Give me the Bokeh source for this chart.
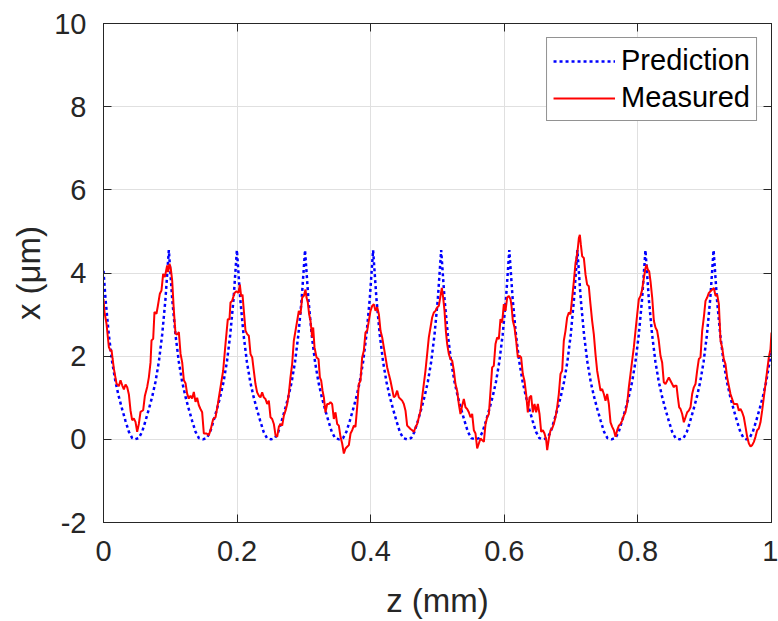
from bokeh.plotting import figure
from bokeh.models import FixedTicker, LinearAxis, Range1d, Legend, LegendItem
from bokeh.embed import file_html
from bokeh.resources import INLINE

# ---------------- data ----------------
x_ticks = [0, 0.2, 0.4, 0.6, 0.8, 1]
x_tick_labels = ["0", "0.2", "0.4", "0.6", "0.8", "1"]
y_ticks = [-2, 0, 2, 4, 6, 8, 10]
y_tick_labels = ["-2", "0", "2", "4", "6", "8", "10"]

pred_z = [
    0.0000, 0.0030, 0.0080, 0.0130, 0.0180, 0.0230, 0.0280, 0.0330, 0.0380, 0.0430, 0.0469,
    0.0528, 0.0578, 0.0628, 0.0678, 0.0728, 0.0778, 0.0828, 0.0878, 0.0928, 0.0978,
    0.1028, 0.1078, 0.1128, 0.1178, 0.1228, 0.1278, 0.1328, 0.1378, 0.1428, 0.1488,
    0.1547, 0.1597, 0.1647, 0.1697, 0.1747, 0.1797, 0.1847, 0.1897, 0.1947, 0.1997,
    0.2047, 0.2097, 0.2147, 0.2197, 0.2247, 0.2297, 0.2347, 0.2397, 0.2447, 0.2507,
    0.2567, 0.2617, 0.2667, 0.2717, 0.2767, 0.2817, 0.2867, 0.2917, 0.2967, 0.3017,
    0.3067, 0.3117, 0.3167, 0.3217, 0.3267, 0.3317, 0.3367, 0.3417, 0.3467, 0.3526,
    0.3586, 0.3636, 0.3686, 0.3736, 0.3786, 0.3836, 0.3886, 0.3936, 0.3986, 0.4036,
    0.4086, 0.4136, 0.4186, 0.4236, 0.4286, 0.4336, 0.4386, 0.4436, 0.4486, 0.4546,
    0.4605, 0.4655, 0.4705, 0.4755, 0.4805, 0.4855, 0.4905, 0.4955, 0.5005, 0.5055,
    0.5105, 0.5155, 0.5205, 0.5255, 0.5305, 0.5355, 0.5405, 0.5455, 0.5505, 0.5565,
    0.5625, 0.5675, 0.5725, 0.5775, 0.5825, 0.5875, 0.5925, 0.5975, 0.6025, 0.6075,
    0.6125, 0.6175, 0.6225, 0.6275, 0.6325, 0.6375, 0.6425, 0.6475, 0.6525, 0.6584,
    0.6644, 0.6694, 0.6744, 0.6794, 0.6844, 0.6894, 0.6944, 0.6994, 0.7044, 0.7094,
    0.7144, 0.7194, 0.7244, 0.7294, 0.7344, 0.7394, 0.7444, 0.7494, 0.7544, 0.7604,
    0.7663, 0.7713, 0.7763, 0.7813, 0.7863, 0.7913, 0.7963, 0.8013, 0.8063, 0.8113,
    0.8163, 0.8213, 0.8263, 0.8313, 0.8363, 0.8413, 0.8463, 0.8513, 0.8563, 0.8623,
    0.8683, 0.8733, 0.8783, 0.8833, 0.8883, 0.8933, 0.8983, 0.9033, 0.9083, 0.9133,
    0.9183, 0.9233, 0.9283, 0.9333, 0.9383, 0.9433, 0.9483, 0.9533, 0.9583, 0.9626,
    0.9670, 0.9720, 0.9770, 0.9820, 0.9870, 0.9920, 0.9970, 1.0000,
]
pred_x = [
    4.05, 3.38, 2.51, 1.86, 1.38, 1.02, 0.72, 0.44, 0.18, 0.03, 0.00,
    0.03, 0.18, 0.44, 0.72, 1.02, 1.38, 1.86, 2.51, 3.38, 4.55,
    3.38, 2.51, 1.86, 1.38, 1.02, 0.72, 0.44, 0.18, 0.03, 0.00,
    0.03, 0.18, 0.44, 0.72, 1.02, 1.38, 1.86, 2.51, 3.38, 4.55,
    3.38, 2.51, 1.86, 1.38, 1.02, 0.72, 0.44, 0.18, 0.03, 0.00,
    0.03, 0.18, 0.44, 0.72, 1.02, 1.38, 1.86, 2.51, 3.38, 4.55,
    3.38, 2.51, 1.86, 1.38, 1.02, 0.72, 0.44, 0.18, 0.03, 0.00,
    0.03, 0.18, 0.44, 0.72, 1.02, 1.38, 1.86, 2.51, 3.38, 4.55,
    3.38, 2.51, 1.86, 1.38, 1.02, 0.72, 0.44, 0.18, 0.03, 0.00,
    0.03, 0.18, 0.44, 0.72, 1.02, 1.38, 1.86, 2.51, 3.38, 4.55,
    3.38, 2.51, 1.86, 1.38, 1.02, 0.72, 0.44, 0.18, 0.03, 0.00,
    0.03, 0.18, 0.44, 0.72, 1.02, 1.38, 1.86, 2.51, 3.38, 4.55,
    3.38, 2.51, 1.86, 1.38, 1.02, 0.72, 0.44, 0.18, 0.03, 0.00,
    0.03, 0.18, 0.44, 0.72, 1.02, 1.38, 1.86, 2.51, 3.38, 4.55,
    3.38, 2.51, 1.86, 1.38, 1.02, 0.72, 0.44, 0.18, 0.03, 0.00,
    0.03, 0.18, 0.44, 0.72, 1.02, 1.38, 1.86, 2.51, 3.38, 4.55,
    3.38, 2.51, 1.86, 1.38, 1.02, 0.72, 0.44, 0.18, 0.03, 0.00,
    0.03, 0.18, 0.44, 0.72, 1.02, 1.38, 1.86, 2.51, 3.38, 4.55,
    3.38, 2.51, 1.86, 1.38, 1.02, 0.72, 0.44, 0.18, 0.03, 0.00,
    0.03, 0.18, 0.44, 0.72, 1.02, 1.38, 1.86, 2.20,
]

meas_z = [
    0.0000, 0.0015, 0.0045, 0.0080, 0.0105, 0.0120, 0.0135, 0.0155, 0.0195, 0.0230,
    0.0255, 0.0280, 0.0305, 0.0330, 0.0355, 0.0380, 0.0404, 0.0429, 0.0454, 0.0479,
    0.0504, 0.0529, 0.0554, 0.0594, 0.0619, 0.0654, 0.0679, 0.0704, 0.0719, 0.0744,
    0.0763, 0.0793, 0.0813, 0.0843, 0.0868, 0.0893, 0.0918, 0.0938, 0.0953, 0.0968,
    0.0988, 0.1008, 0.1028, 0.1053, 0.1078, 0.1103, 0.1128, 0.1153, 0.1178, 0.1203,
    0.1228, 0.1252, 0.1277, 0.1302, 0.1327, 0.1352, 0.1377, 0.1402, 0.1427, 0.1452,
    0.1477, 0.1502, 0.1542, 0.1577, 0.1602, 0.1642, 0.1677, 0.1712, 0.1751, 0.1791,
    0.1826, 0.1861, 0.1886,
    0.1901, 0.1926, 0.1961, 0.1991, 0.2021, 0.2041, 0.2061, 0.2081, 0.2101, 0.2126,
    0.2151, 0.2176, 0.2201, 0.2226, 0.2250, 0.2275, 0.2300, 0.2325, 0.2350, 0.2375,
    0.2400, 0.2425, 0.2450, 0.2475, 0.2500, 0.2525, 0.2550, 0.2575, 0.2600, 0.2625,
    0.2650, 0.2675, 0.2700, 0.2725, 0.2750, 0.2774, 0.2799, 0.2824, 0.2849, 0.2874,
    0.2899, 0.2924, 0.2949, 0.2974, 0.2999, 0.3024, 0.3039, 0.3059, 0.3079, 0.3099,
    0.3124, 0.3139, 0.3159, 0.3189, 0.3219, 0.3239, 0.3259, 0.3279, 0.3299, 0.3323,
    0.3348, 0.3373, 0.3398, 0.3423, 0.3448, 0.3473, 0.3498, 0.3523, 0.3548, 0.3573,
    0.3598, 0.3623, 0.3648, 0.3673, 0.3698, 0.3723, 0.3748, 0.3772, 0.3797, 0.3822,
    0.3847,
    0.3872, 0.3897, 0.3922, 0.3947, 0.3972, 0.3997, 0.4022, 0.4047, 0.4072, 0.4097,
    0.4122, 0.4147, 0.4172, 0.4197, 0.4222, 0.4247, 0.4271, 0.4296, 0.4321, 0.4346,
    0.4371, 0.4396, 0.4421, 0.4446, 0.4471, 0.4496, 0.4521, 0.4546, 0.4571, 0.4596,
    0.4621, 0.4646, 0.4671, 0.4696, 0.4721, 0.4746, 0.4770, 0.4795, 0.4820, 0.4845,
    0.4870, 0.4895, 0.4920, 0.4945, 0.4970, 0.4995, 0.5020, 0.5045, 0.5065, 0.5085,
    0.5105, 0.5125, 0.5145, 0.5170, 0.5195, 0.5220, 0.5245, 0.5269, 0.5294, 0.5319,
    0.5344, 0.5369, 0.5394, 0.5419, 0.5444, 0.5469, 0.5494, 0.5519, 0.5544, 0.5569,
    0.5594, 0.5619, 0.5644, 0.5669, 0.5694, 0.5719, 0.5744, 0.5769, 0.5794,
    0.5818, 0.5843, 0.5868, 0.5893, 0.5918, 0.5943, 0.5968, 0.5993, 0.6018, 0.6043,
    0.6068, 0.6093, 0.6108, 0.6128, 0.6153, 0.6178, 0.6203, 0.6228, 0.6252, 0.6277,
    0.6302, 0.6327, 0.6352, 0.6377, 0.6402, 0.6427, 0.6452, 0.6477, 0.6502, 0.6527,
    0.6552, 0.6577, 0.6602, 0.6627, 0.6642, 0.6667, 0.6692, 0.6717, 0.6741, 0.6766,
    0.6791, 0.6816, 0.6841, 0.6866, 0.6891, 0.6916, 0.6941, 0.6966, 0.6991, 0.7016,
    0.7041, 0.7066, 0.7081, 0.7101, 0.7116, 0.7131, 0.7146, 0.7166, 0.7191, 0.7216,
    0.7240, 0.7265, 0.7290, 0.7315, 0.7340, 0.7365, 0.7390, 0.7415, 0.7440, 0.7465,
    0.7490, 0.7515, 0.7540, 0.7565, 0.7590, 0.7615, 0.7640, 0.7665, 0.7690, 0.7715,
    0.7740,
    0.7764, 0.7789, 0.7814, 0.7839, 0.7864, 0.7889, 0.7914, 0.7939, 0.7964, 0.7989,
    0.8014, 0.8039, 0.8064, 0.8089, 0.8114, 0.8129, 0.8149, 0.8169, 0.8189, 0.8214,
    0.8239, 0.8263, 0.8288, 0.8313, 0.8338, 0.8363, 0.8388, 0.8413, 0.8438, 0.8463,
    0.8488, 0.8513, 0.8538, 0.8553, 0.8578, 0.8598, 0.8618, 0.8638, 0.8663, 0.8688,
    0.8713, 0.8738, 0.8762, 0.8787, 0.8812, 0.8837, 0.8862, 0.8887, 0.8912, 0.8937,
    0.8962, 0.8987, 0.9012, 0.9037, 0.9062, 0.9087, 0.9112, 0.9137, 0.9162, 0.9187,
    0.9212, 0.9237, 0.9261, 0.9286, 0.9311, 0.9336, 0.9361, 0.9386, 0.9411, 0.9436,
    0.9461, 0.9486, 0.9511, 0.9536, 0.9561, 0.9586, 0.9611, 0.9636, 0.9661, 0.9686,
    0.9711, 0.9736, 0.9760, 0.9785, 0.9810, 0.9835, 0.9860, 0.9885, 0.9910, 0.9935,
    0.9960, 0.9985, 1.0000,
]
meas_x = [
    3.37, 3.06, 2.78, 2.22, 2.13, 2.15, 1.95, 1.70, 1.34, 1.28,
    1.42, 1.30, 1.20, 1.32, 1.25, 1.08, 0.70, 0.46, 0.50, 0.42,
    0.18, 0.37, 0.66, 0.70, 1.04, 1.26, 1.49, 1.85, 2.38, 2.42,
    3.06, 3.02, 3.20, 3.50, 3.58, 3.98, 3.90, 4.06, 4.18, 4.02,
    4.22, 4.10, 3.82, 3.10, 2.54, 2.52, 2.58, 2.06, 1.85, 1.42,
    1.35, 1.10, 0.98, 1.05, 0.98, 1.14, 0.90, 1.00, 0.82, 0.73,
    0.65, 0.14, 0.14, 0.10, 0.22, 0.49, 0.53, 0.85, 1.25, 1.65,
    2.29, 2.89, 2.89,
    3.29, 3.33, 3.52, 3.56, 3.52, 3.72, 3.44, 3.48, 3.09, 2.61,
    2.53, 2.49, 2.05, 1.97, 1.65, 1.33, 1.13, 1.05, 1.01, 1.13,
    1.01, 0.97, 0.85, 0.93, 0.53, 0.49, 0.37, 0.10, 0.06, 0.30,
    0.37, 0.33, 0.57, 0.69, 0.85, 1.09, 1.49, 1.81, 2.37, 2.61,
    2.85, 3.09, 3.01, 3.41, 3.45, 3.60, 3.41, 3.29, 3.00, 2.85,
    2.45, 2.69, 2.21, 1.97, 1.93, 1.49, 1.41, 1.17, 1.01, 0.65,
    0.85, 0.85, 0.89, 0.85, 0.49, 0.65, 0.37, 0.33, 0.06, -0.10,
    -0.34, -0.22, -0.18, -0.14, 0.14, 0.22, 0.33, 0.30, 0.77, 1.33,
    1.41,
    1.97, 2.13, 2.57, 2.61, 2.85, 3.09, 3.21, 3.25, 3.09, 3.18,
    3.01, 2.61, 2.45, 2.21, 1.97, 1.73, 1.57, 1.41, 1.21, 1.01,
    1.05, 1.17, 1.01, 0.97, 0.93, 0.85, 0.69, 0.33, 0.29, 0.25,
    0.22, 0.18, 0.29, 0.37, 0.53, 0.69, 1.01, 1.33, 1.65, 2.05,
    2.45, 2.69, 2.93, 3.05, 3.09, 3.17, 3.21, 3.45, 3.64, 3.41,
    3.09, 2.61, 2.29, 2.05, 1.93, 1.89, 1.65, 1.33, 1.17, 0.85,
    0.61, 0.81, 0.97, 0.77, 0.73, 0.65, 0.53, 0.61, 0.22, 0.14,
    -0.22, -0.10, 0.02, -0.02, -0.06, 0.37, 0.53, 0.61, 1.17,
    1.73, 1.77, 2.29, 2.45, 2.41, 2.89, 2.81, 3.25, 3.09, 3.41,
    3.45, 3.37, 3.21, 2.85, 2.69, 2.37, 1.97, 2.01, 1.97, 1.57,
    1.41, 1.09, 0.65, 1.01, 1.05, 0.65, 0.85, 0.65, 0.85, 0.61,
    0.18, 0.22, 0.14, -0.02, -0.26, 0.02, 0.22, 0.26, 0.37, 0.53,
    0.77, 1.09, 1.57, 1.65, 2.37, 2.61, 2.93, 3.05, 3.01, 3.41,
    3.80, 4.24, 4.36, 4.60, 4.84, 4.92, 4.68, 4.40, 4.36, 3.96,
    3.72, 3.68, 3.25, 2.85, 2.53, 2.05, 1.65, 1.41, 1.17, 1.21,
    1.09, 0.93, 1.09, 0.85, 0.41, 0.30, 0.22, 0.06, 0.22, 0.33,
    0.37,
    0.45, 0.57, 0.65, 0.85, 1.25, 1.57, 1.89, 2.21, 2.61, 3.00,
    3.37, 3.45, 3.60, 3.88, 4.12, 4.20, 4.08, 4.04, 3.80, 3.41,
    2.85, 2.69, 2.61, 2.37, 2.01, 1.85, 1.37, 1.33, 1.41, 1.49,
    1.41, 1.33, 1.25, 1.29, 1.29, 1.01, 0.77, 0.73, 0.61, 0.41,
    0.53, 0.65, 0.69, 0.77, 1.09, 1.25, 1.33, 1.65, 1.93, 1.97,
    2.61, 2.93, 3.33, 3.41, 3.52, 3.56, 3.60, 3.64, 3.45, 3.48,
    3.25, 2.37, 2.21, 1.93, 1.81, 1.49, 1.29, 1.09, 0.97, 0.85,
    0.85, 0.85, 0.69, 0.73, 0.65, 0.53, 0.30, 0.06, -0.10, -0.17,
    -0.14, -0.06, 0.06, 0.22, 0.26, 0.41, 0.69, 1.01, 1.33, 1.65,
    1.97, 2.17, 2.57,
]

series_names = ["Prediction", "Measured"]
x_label = "z (mm)"
y_label = "x (\u03bcm)"

# ---------------- styles ----------------
FONT = "Liberation Sans"
TXT = "#262626"
GRID = "#e0e0e0"

p = figure(
    frame_width=668, frame_height=499,
    output_backend="svg", toolbar_location=None,
    x_range=Range1d(0, 1), y_range=Range1d(-2, 10),
    min_border_left=103, min_border_right=7, min_border_top=23, min_border_bottom=99,
)
p.background_fill_color = "white"
p.border_fill_color = "white"
p.outline_line_color = TXT
p.outline_line_width = 1

r_pred = p.line(pred_z, pred_x, line_color="#0000FF", line_width=2.5, line_dash="3 3")
r_meas = p.line(meas_z, meas_x, line_color="#FF0000", line_width=2)

def style_axis(ax, ticks, labels, show_labels=True):
    ax.ticker = FixedTicker(ticks=ticks)
    ax.major_tick_in = 8
    ax.major_tick_out = 0
    ax.major_tick_line_color = TXT
    ax.minor_tick_line_color = None
    ax.axis_line_color = TXT
    if show_labels:
        ax.major_label_overrides = {t: l for t, l in zip(ticks, labels)}
        ax.major_label_text_font = FONT
        ax.major_label_text_color = TXT
        ax.major_label_text_font_size = "29px"
    else:
        ax.major_label_text_color = None
        ax.major_label_text_font_size = "1px"
        ax.major_label_standoff = 0

style_axis(p.xaxis[0], x_ticks, x_tick_labels)
style_axis(p.yaxis[0], y_ticks, y_tick_labels)
p.xaxis[0].major_label_standoff = 18
p.yaxis[0].major_label_standoff = 17

p.xaxis[0].axis_label = x_label
p.yaxis[0].axis_label = y_label
for ax in (p.xaxis[0], p.yaxis[0]):
    ax.axis_label_text_font = FONT
    ax.axis_label_text_font_size = "33px"
    ax.axis_label_text_font_style = "normal"
    ax.axis_label_text_color = TXT
p.xaxis[0].axis_label_standoff = 18
p.yaxis[0].axis_label_standoff = 4

top_ax = LinearAxis()
right_ax = LinearAxis()
style_axis(top_ax, x_ticks, x_tick_labels, show_labels=False)
style_axis(right_ax, y_ticks, y_tick_labels, show_labels=False)
p.add_layout(top_ax, "above")
p.add_layout(right_ax, "right")

p.xgrid.ticker = FixedTicker(ticks=x_ticks)
p.ygrid.ticker = FixedTicker(ticks=y_ticks)
p.grid.grid_line_color = GRID
p.grid.grid_line_width = 1

legend = Legend(
    items=[LegendItem(label=series_names[0], renderers=[r_pred]),
           LegendItem(label=series_names[1], renderers=[r_meas])],
    location="top_right",
)
legend.margin = 14
legend.padding = 6
legend.spacing = 4
legend.glyph_width = 62
legend.glyph_height = 30
legend.label_height = 30
legend.label_standoff = 6
legend.label_text_font = FONT
legend.label_text_font_size = "29px"
legend.label_text_color = "black"
legend.border_line_color = TXT
legend.border_line_width = 1
legend.background_fill_color = "white"
legend.background_fill_alpha = 1
p.add_layout(legend)

open("out.html", "w").write(file_html(p, INLINE))
